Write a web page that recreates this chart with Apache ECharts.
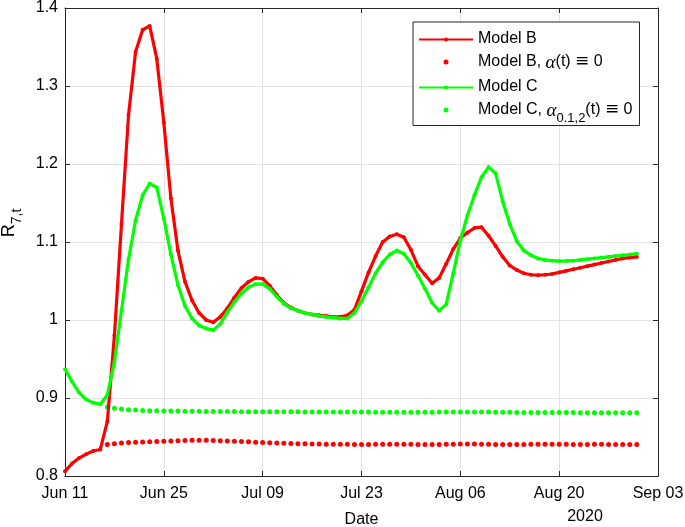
<!DOCTYPE html>
<html>
<head>
<meta charset="utf-8">
<script src="https://cdn.jsdelivr.net/npm/echarts@6/dist/echarts.min.js"></script>
<style>
html,body{margin:0;padding:0;background:#fff;}
#chart{width:685px;height:527px;}
</style>
</head>
<body>
<div id="chart"></div>
<script>
// x tick labels (every 14 days starting Jun 11, 2020)
const tickLabels = ['Jun 11', 'Jun 25', 'Jul 09', 'Jul 23', 'Aug 06', 'Aug 20', 'Sep 03'];
const yearLabel = '2020';
// daily values from Jun 11 (day 0) to Aug 31 (day 81)
const modelB = [
  0.806, 0.816, 0.823, 0.828, 0.832, 0.834, 0.870, 0.980, 1.123, 1.263,
  1.344, 1.372, 1.377, 1.335, 1.253, 1.156, 1.089, 1.049, 1.025, 1.009,
  1.000, 0.997, 1.004, 1.015, 1.029, 1.041, 1.049, 1.054, 1.053, 1.044,
  1.032, 1.022, 1.016, 1.012, 1.009, 1.007, 1.006, 1.005, 1.004, 1.004,
  1.006, 1.013, 1.037, 1.061, 1.082, 1.100, 1.107, 1.110, 1.106, 1.090,
  1.069, 1.058, 1.047, 1.054, 1.072, 1.091, 1.105, 1.112, 1.118, 1.119,
  1.108, 1.095, 1.081, 1.070, 1.064, 1.060, 1.058, 1.0575, 1.058, 1.059,
  1.061, 1.063, 1.065, 1.067, 1.069, 1.071, 1.073, 1.075, 1.077, 1.079,
  1.080, 1.081
];
const modelC = [
  0.937, 0.921, 0.907, 0.898, 0.894, 0.892, 0.904, 0.946, 1.012, 1.078,
  1.128, 1.160, 1.175, 1.170, 1.130, 1.084, 1.045, 1.018, 1.002, 0.993,
  0.989, 0.987, 0.995, 1.010, 1.023, 1.034, 1.042, 1.046, 1.046, 1.040,
  1.030, 1.021, 1.015, 1.012, 1.009, 1.007, 1.005, 1.004, 1.003, 1.002,
  1.002, 1.009, 1.024, 1.042, 1.060, 1.074, 1.084, 1.089, 1.085, 1.073,
  1.057, 1.040, 1.022, 1.012, 1.020, 1.060, 1.102, 1.134, 1.160, 1.183,
  1.196, 1.188, 1.152, 1.123, 1.101, 1.089, 1.083, 1.079, 1.077, 1.076,
  1.0755, 1.0757, 1.076, 1.077, 1.078, 1.079, 1.080, 1.081, 1.082, 1.083,
  1.084, 1.085
];
// zero-alpha variants start on day 6
const zeroAlphaStartDay = 6;
const modelBZeroAlpha = [
  0.8405, 0.8415, 0.8422, 0.8428, 0.8433, 0.8437, 0.8440, 0.8443, 0.8446, 0.8449,
  0.8452, 0.8455, 0.8457, 0.8459, 0.8458, 0.8456, 0.8453, 0.8450, 0.8446, 0.8442,
  0.8438, 0.8434, 0.8430, 0.8426, 0.8422, 0.8419, 0.8416, 0.8414, 0.8412, 0.8410,
  0.8409, 0.8408, 0.8407, 0.8406, 0.8406, 0.8405, 0.8405, 0.8405, 0.8406, 0.8407,
  0.8408, 0.8408, 0.8407, 0.8406, 0.8405, 0.8404, 0.8404, 0.8405, 0.8406, 0.8408,
  0.8410, 0.8411, 0.8410, 0.8408, 0.8406, 0.8405, 0.8404, 0.8404, 0.8404, 0.8405,
  0.8406, 0.8407, 0.8408, 0.8408, 0.8407, 0.8406, 0.8405, 0.8405, 0.8405, 0.8406,
  0.8406, 0.8405, 0.8405, 0.8405, 0.8405, 0.8405
];
const modelCZeroAlpha = [
  0.8885, 0.8870, 0.8858, 0.8850, 0.8845, 0.8841, 0.8838, 0.8836, 0.8834, 0.8833,
  0.8832, 0.8831, 0.8830, 0.8829, 0.8828, 0.8828, 0.8827, 0.8826, 0.8826, 0.8825,
  0.8825, 0.8825, 0.8825, 0.8824, 0.8824, 0.8824, 0.8824, 0.8823, 0.8822, 0.8822,
  0.8821, 0.8821, 0.8822, 0.8822, 0.8822, 0.8821, 0.8820, 0.8819, 0.8818, 0.8817,
  0.8816, 0.8816, 0.8816, 0.8816, 0.8816, 0.8817, 0.8818, 0.8819, 0.8820, 0.8821,
  0.8822, 0.8822, 0.8821, 0.8820, 0.8819, 0.8818, 0.8817, 0.8816, 0.8815, 0.8815,
  0.8815, 0.8815, 0.8815, 0.8814, 0.8814, 0.8813, 0.8813, 0.8812, 0.8812, 0.8811,
  0.8811, 0.8810, 0.8810, 0.8810, 0.8810, 0.8810
];
const seriesNames = ['Model B', 'Model B, α(t) ≡ 0', 'Model C', 'Model C, α0.1,2(t) ≡ 0'];

const FONT = 'Liberation Sans';
const RED = '#ff0000', GREEN = '#00ff00';
const toXY = (arr, start) => arr.map((v, i) => [i + start, v]);

const chart = echarts.init(document.getElementById('chart'), null, {renderer: 'canvas'});
const axisLineStyle = {color: '#262626', width: 1};
const common = {min: 0, max: 84, interval: 14, type: 'value'};
const option = {
  animation: false,
  backgroundColor: '#fff',
  grid: {left: 65, right: 27, top: 8, bottom: 51, containLabel: false, outerBoundsMode: 'none'},
  xAxis: [
    Object.assign({}, common, {
      position: 'bottom',
      axisLine: {show: true, onZero: false, lineStyle: axisLineStyle},
      axisTick: {show: true, inside: true, length: 5, lineStyle: axisLineStyle},
      axisLabel: {show: true, margin: 10, color: '#000', fontFamily: FONT, fontSize: 16,
        formatter: v => tickLabels[Math.round(v / 14)] || ''},
      splitLine: {show: true, lineStyle: {color: '#e2e2e2', width: 1}},
      name: 'Date', nameLocation: 'middle', nameGap: 36,
      nameTextStyle: {color: '#000', fontFamily: FONT, fontSize: 16}
    }),
    Object.assign({}, common, {
      position: 'top',
      axisLine: {show: true, onZero: false, lineStyle: axisLineStyle},
      axisTick: {show: true, inside: true, length: 5, lineStyle: axisLineStyle},
      axisLabel: {show: false},
      splitLine: {show: false}
    })
  ],
  yAxis: [
    {
      type: 'value', min: 0.8, max: 1.4, interval: 0.1, position: 'left',
      axisLine: {show: true, onZero: false, lineStyle: axisLineStyle},
      axisTick: {show: true, inside: true, length: 5, lineStyle: axisLineStyle},
      axisLabel: {show: true, margin: 7, color: '#000', fontFamily: FONT, fontSize: 16},
      splitLine: {show: true, lineStyle: {color: '#e2e2e2', width: 1}}
    },
    {
      type: 'value', min: 0.8, max: 1.4, interval: 0.1, position: 'right',
      axisLine: {show: true, onZero: false, lineStyle: axisLineStyle},
      axisTick: {show: true, inside: true, length: 5, lineStyle: axisLineStyle},
      axisLabel: {show: false},
      splitLine: {show: false}
    }
  ],
  legend: {
    orient: 'vertical', left: 413, top: 22,
    padding: [9, 7, 1, 5], itemGap: 6.5, itemWidth: 54, itemHeight: 5,
    borderColor: '#262626', borderWidth: 1, backgroundColor: '#fff',
    data: seriesNames,
    formatter: function (name) {
      if (name === seriesNames[1]) return '{n|Model B, }{i|α}{n|(t) }{e|≡}{n| 0}';
      if (name === seriesNames[3]) return '{n|Model C, }{i|α}{s|0.1,2}{n|(t) }{e|≡}{n| 0}';
      return '{n|' + name + '}';
    },
    textStyle: {
      color: '#000', fontFamily: FONT, fontSize: 16,
      rich: {
        n: {fontFamily: FONT, fontSize: 16, color: '#000', lineHeight: 17, verticalAlign: 'top'},
        e: {fontFamily: 'DejaVu Serif', fontSize: 17, color: '#000', lineHeight: 17, verticalAlign: 'top'},
        i: {fontFamily: 'Liberation Serif', fontStyle: 'italic', fontSize: 19, color: '#000', lineHeight: 17, verticalAlign: 'top'},
        s: {fontFamily: FONT, fontSize: 13, color: '#000', lineHeight: 12, verticalAlign: 'bottom', padding: [0, 0, -6, 0]}
      }
    }
  },
  graphic: [
    {
      type: 'text', x: 12, y: 223, rotation: Math.PI / 2,
      style: {
        text: '{r|R}{s|7,t}', align: 'center', verticalAlign: 'middle',
        rich: {
          r: {fontFamily: FONT, fontSize: 18, fill: '#000', lineHeight: 24, verticalAlign: 'top'},
          s: {fontFamily: FONT, fontSize: 14, fill: '#000', lineHeight: 24, verticalAlign: 'bottom'}
        }
      }
    },
    {
      type: 'text', x: 585, y: 517,
      style: {text: yearLabel, fontFamily: FONT, fontSize: 16, fill: '#000', align: 'center', verticalAlign: 'middle'}
    }
  ],
  series: [
    {
      name: seriesNames[0], type: 'line', data: toXY(modelB, 0),
      xAxisIndex: 0, yAxisIndex: 0,
      symbol: 'circle', symbolSize: 4, showSymbol: true,
      lineStyle: {color: RED, width: 3.2}, itemStyle: {color: RED}, z: 3
    },
    {
      name: seriesNames[1], type: 'scatter', data: toXY(modelBZeroAlpha, zeroAlphaStartDay),
      symbol: 'circle', symbolSize: 5, itemStyle: {color: RED, opacity: 1}, z: 2
    },
    {
      name: seriesNames[2], type: 'line', data: toXY(modelC, 0),
      symbol: 'circle', symbolSize: 4, showSymbol: true,
      lineStyle: {color: GREEN, width: 3.2}, itemStyle: {color: GREEN}, z: 4
    },
    {
      name: seriesNames[3], type: 'scatter', data: toXY(modelCZeroAlpha, zeroAlphaStartDay),
      symbol: 'circle', symbolSize: 5, itemStyle: {color: GREEN, opacity: 1}, z: 2
    }
  ]
};
chart.setOption(option);
</script>
</body>
</html>
